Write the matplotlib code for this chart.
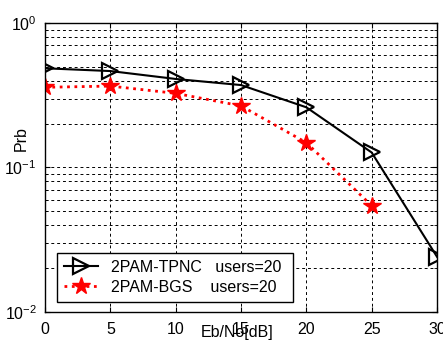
import matplotlib.pyplot as plt
import numpy as np

plt.rcParams['font.family'] = ['Liberation Sans', 'DejaVu Sans']
plt.rcParams['font.size'] = 11.5

snr = [0, 5, 10, 15, 20, 25, 30]
prb_tpnc = [0.486, 0.465, 0.41, 0.372, 0.261, 0.127, 0.0241]
snr_bgs = [0, 5, 10, 15, 20, 25]
prb_bgs = [0.359, 0.366, 0.326, 0.267, 0.1485, 0.0544]

fig = plt.figure(figsize=(4.43, 3.47), dpi=100)
ax = fig.add_axes([0.1016, 0.1009, 0.8849, 0.8328])

ax.semilogy(snr, prb_tpnc, color='black', lw=1.5, marker='>', ms=11,
            mfc='none', mec='black', mew=1.6, label='2PAM-TPNC   users=20 ')
ax.semilogy(snr_bgs, prb_bgs, color='red', lw=2, ls=':', marker='*', ms=13,
            mfc='red', mec='red', label='2PAM-BGS    users=20 ')

ax.set_xlim(0, 30)
ax.set_ylim(1e-2, 1)
ax.set_xticks([0, 5, 10, 15, 20, 25, 30])
ax.grid(True, which='major', color='black', ls=(0, (3, 3)), lw=0.7)
ax.grid(True, which='minor', axis='y', color='black', ls=(0, (3, 3)), lw=0.7)
ax.tick_params(which='both', direction='in', top=True, right=True)
ax.tick_params(axis='x', pad=7)
ax.tick_params(axis='y', pad=6)
ax.tick_params(which='minor', length=2)
for s in ax.spines.values():
    s.set_linewidth(1.0)

ax.set_xlabel('Eb/No[dB]')
ax.xaxis.set_label_coords(0.491, -0.045)
ax.set_ylabel('Prb')
ax.yaxis.set_label_coords(-0.042, 0.60)

leg = ax.legend(loc='lower left', bbox_to_anchor=(0.031, 0.035), borderaxespad=0,
                fancybox=False, framealpha=1, edgecolor='black',
                handlelength=2.1, borderpad=0.45, labelspacing=0.3)
leg.get_frame().set_linewidth(1.0)

plt.savefig('out.png')
